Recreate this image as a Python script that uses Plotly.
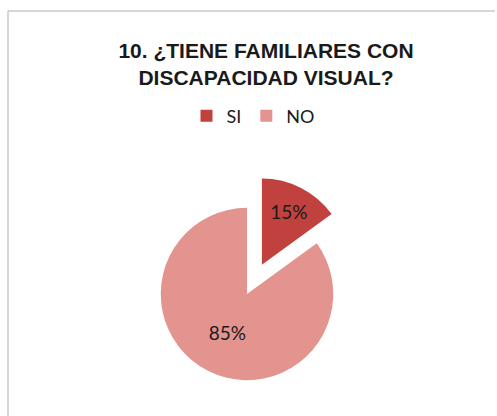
import plotly.graph_objects as go

labels = ["SI", "NO"]
values = [15, 85]
colors = ["#C0413E", "#E4948F"]
pulls = [0.38, 0]
title_text = "<b>10. ¿TIENE FAMILIARES CON<br>DISCAPACIDAD VISUAL?</b>"

W, H = 497, 416

fig = go.Figure(go.Pie(
    labels=labels,
    values=values,
    marker=dict(colors=colors, line=dict(width=0)),
    pull=pulls,
    sort=False,
    direction="clockwise",
    rotation=0,
    textinfo="percent",
    textposition="inside",
    insidetextorientation="horizontal",
    textfont=dict(family="Lato, Open Sans, sans-serif", size=19, color="#1a1a1a"),
    domain=dict(x=[128 / W, 366 / W], y=[1 - 413 / H, 1 - 175 / H]),
    hoverinfo="label+percent",
))

fig.update_layout(
    width=W, height=H,
    margin=dict(l=0, r=0, t=0, b=0),
    paper_bgcolor="white",
    plot_bgcolor="white",
    title=dict(
        text=title_text,
        x=266 / W, xanchor="center",
        y=1 - 58 / H, yanchor="top",
        font=dict(family="Liberation Sans, Arial, sans-serif", size=21, color="#1a1a1a"),
    ),
    showlegend=True,
    legend=dict(
        orientation="h",
        x=253 / W, xanchor="center",
        y=1 - 116 / H, yanchor="middle",
        font=dict(family="Lato, Open Sans, sans-serif", size=18, color="#1a1a1a"),
        itemwidth=30,
        bgcolor="rgba(0,0,0,0)",
    ),
    shapes=[
        dict(type="line", xref="paper", yref="paper",
             x0=8 / W, x1=495 / W, y0=1 - 11 / H, y1=1 - 11 / H,
             line=dict(color="#C8C8C8", width=1.5)),
        dict(type="line", xref="paper", yref="paper",
             x0=8 / W, x1=8 / W, y0=1 - 11 / H, y1=0,
             line=dict(color="#C8C8C8", width=1.5)),
    ],
)

fig.write_html("out.html")
